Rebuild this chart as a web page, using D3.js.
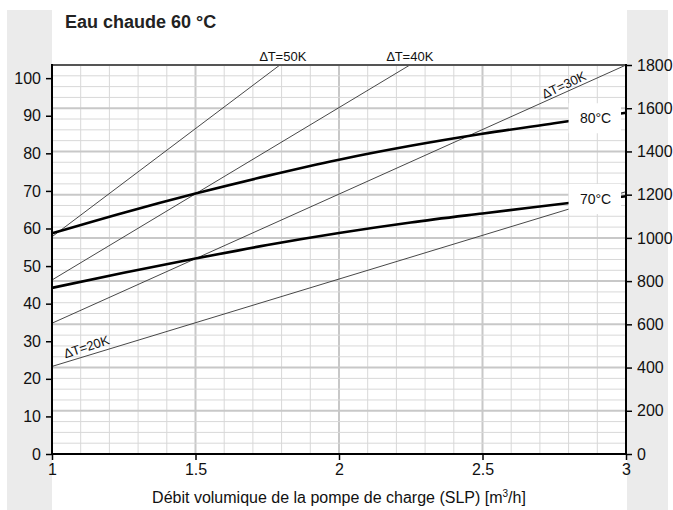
<!DOCTYPE html>
<html>
<head>
<meta charset="utf-8">
<script src="https://cdn.jsdelivr.net/npm/d3@7"></script>
<style>
  body { margin: 0; background: #fff; }
  svg { display: block; font-family: "Liberation Sans", Arial, sans-serif; }
  .tick text { font-size: 16px; fill: #111; }
  .tick line { stroke: #000; stroke-width: 1.5; }
</style>
</head>
<body>
<svg width="673" height="510"></svg>
<script>
// flow in m3/h, power in kW (left), hot water l/h (right)
const flow = [1, 1.25, 1.5, 1.75, 2, 2.25, 2.5, 2.75, 3];
const power80 = [58.7, 64.2, 69.3, 74.0, 78.3, 82.0, 85.2, 88.0, 90.8];
const power70 = [44.2, 48.2, 52.0, 55.6, 58.8, 61.6, 64.0, 66.3, 68.6];

const dtNames = ['∆T=20K', '∆T=30K', '∆T=40K', '∆T=50K'];
const dtStart = [23.3, 34.8, 46.3, 57.8];
const dtEndFlow = [3, 3, 2.247, 1.794];
const dtEnd = [69.8, 103.5, 103.5, 103.5];

const leftTicks = [0, 10, 20, 30, 40, 50, 60, 70, 80, 90, 100];
const rightTicks = [0, 200, 400, 600, 800, 1000, 1200, 1400, 1600, 1800];
const xTicks = [1, 1.5, 2, 2.5, 3];

const svg = d3.select('svg');
const pl = 52, pr = 626, pt = 65, pb = 454;

const x = d3.scaleLinear().domain([1, 3]).range([pl, pr]);
const yL = d3.scaleLinear().domain([0, 103.5]).range([pb, pt]);
const yR = d3.scaleLinear().domain([0, 1800]).range([pb, pt]);

// grey side panels
svg.append('rect').attr('x', 7).attr('y', 10).attr('width', pl - 7).attr('height', 500).attr('fill', '#ebebeb');
svg.append('rect').attr('x', pr + 1).attr('y', 10).attr('width', 668 - pr - 1).attr('height', 500).attr('fill', '#ebebeb');

// grid
const grid = svg.append('g');
grid.selectAll('.vx').data(d3.range(11, 30).map(d => d / 10))
  .enter().append('line')
  .attr('x1', d => x(d)).attr('x2', d => x(d))
  .attr('y1', pt).attr('y2', pb)
  .attr('stroke', d => (Math.round(d * 10) % 5 === 0) ? '#c8c8c8' : '#d8d8d8')
  .attr('stroke-width', d => (Math.round(d * 10) % 5 === 0) ? 2 : 1);
grid.selectAll('.hy').data(d3.range(50, 1800, 50))
  .enter().append('line')
  .attr('x1', pl).attr('x2', pr)
  .attr('y1', d => yR(d)).attr('y2', d => yR(d))
  .attr('stroke', d => d % 200 === 0 ? '#c8c8c8' : '#d8d8d8')
  .attr('stroke-width', d => d % 200 === 0 ? 2 : 1);

svg.append('clipPath').attr('id', 'plot')
  .append('rect').attr('x', pl).attr('y', pt).attr('width', pr - pl).attr('height', pb - pt);

// delta T lines
const dt = dtNames.map((n, i) => [[1, dtStart[i]], [dtEndFlow[i], dtEnd[i]]]);
const line = d3.line().x(d => x(d[0])).y(d => yL(d[1]));
svg.append('g').attr('clip-path', 'url(#plot)')
  .selectAll('path').data(dt).enter().append('path')
  .attr('d', line).attr('fill', 'none').attr('stroke', '#333').attr('stroke-width', 0.9);

// temperature curves
const curve = d3.line().x((d, i) => x(flow[i])).y(d => yL(d)).curve(d3.curveMonotoneX);
svg.append('g').selectAll('path').data([power80, power70]).enter().append('path')
  .attr('d', curve).attr('fill', 'none').attr('stroke', '#000').attr('stroke-width', 2.6);

// curve labels on white boxes
const tLabels = [{ t: '80°C', v: 88.8 }, { t: '70°C', v: 67.3 }];
tLabels.forEach(l => {
  const cy = yL(l.v) - 2;
  svg.append('rect').attr('x', x(2.8)).attr('y', cy - 15).attr('width', 621 - x(2.8)).attr('height', 30).attr('fill', '#fff');
  svg.append('text').attr('x', x(2.8) + 27).attr('y', cy + 5).attr('text-anchor', 'middle')
    .attr('font-size', 14).attr('fill', '#111').text(l.t);
});

// delta T labels
const dtLab = svg.append('g').attr('font-size', 13).attr('fill', '#111');
dtLab.append('text').attr('x', 283).attr('y', 61).attr('text-anchor', 'middle').text(dtNames[3]);
dtLab.append('text').attr('x', 410).attr('y', 61).attr('text-anchor', 'middle').text(dtNames[2]);
dtLab.append('text').attr('text-anchor', 'middle')
  .attr('transform', `translate(566,89) rotate(-25)`).text(dtNames[1]);
dtLab.append('text').attr('text-anchor', 'middle')
  .attr('transform', `translate(88,351) rotate(-18)`).text(dtNames[0]);

// axes
svg.append('g').attr('transform', `translate(${pl},0)`)
  .call(d3.axisLeft(yL).tickValues(leftTicks).tickSize(6).tickPadding(5))
  .call(g => g.select('.domain').remove());
svg.append('g').attr('transform', `translate(${pr},0)`)
  .call(d3.axisRight(yR).tickValues(rightTicks).tickFormat(d3.format('d')).tickSize(6).tickPadding(5))
  .call(g => g.select('.domain').remove());
svg.append('g').attr('transform', `translate(0,${pb})`)
  .call(d3.axisBottom(x).tickValues(xTicks).tickFormat(d3.format('')).tickSize(6).tickPadding(4))
  .call(g => g.select('.domain').remove());

svg.append('line').attr('x1', pl).attr('x2', pr).attr('y1', pt).attr('y2', pt)
  .attr('stroke', '#555').attr('stroke-width', 2);
svg.append('line').attr('x1', pl).attr('x2', pr).attr('y1', pb).attr('y2', pb)
  .attr('stroke', '#000').attr('stroke-width', 2);
svg.append('line').attr('x1', pl).attr('x2', pl).attr('y1', pt - 1).attr('y2', pb + 1)
  .attr('stroke', '#000').attr('stroke-width', 2);
svg.append('line').attr('x1', pr).attr('x2', pr).attr('y1', pt - 1).attr('y2', pb + 1)
  .attr('stroke', '#000').attr('stroke-width', 2);

// titles
svg.append('text').attr('x', 65).attr('y', 28).attr('font-size', 18).attr('font-weight', 'bold')
  .attr('fill', '#222').text('Eau chaude 60 °C');
const xl = svg.append('text').attr('x', (pl + pr) / 2).attr('y', 503).attr('text-anchor', 'middle')
  .attr('font-size', 16).attr('fill', '#111');
xl.append('tspan').text('Débit volumique de la pompe de charge (SLP) [m');
xl.append('tspan').attr('dy', -6).attr('font-size', 10).text('3');
xl.append('tspan').attr('dy', 6).text('/h]');
</script>
</body>
</html>
